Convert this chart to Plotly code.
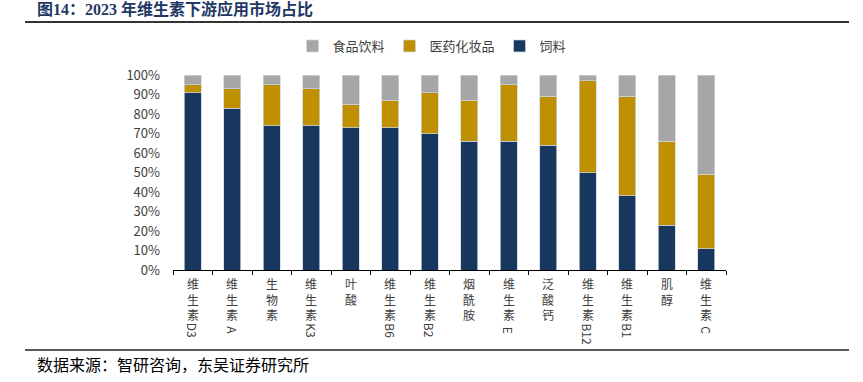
import re
import plotly.graph_objects as go

# ---------------- data ----------------
categories = ["维生素D3", "维生素A", "生物素", "维生素K3", "叶酸", "维生素B6", "维生素B2",
              "烟酰胺", "维生素E", "泛酸钙", "维生素B12", "维生素B1", "肌醇", "维生素C"]
feed = [91, 83, 74, 74, 73, 73, 70, 66, 66, 64, 50, 38, 23, 11]
pharma = [4, 10, 21, 19, 12, 14, 21, 21, 29, 25, 47, 51, 43, 38]
food = [5, 7, 5, 7, 15, 13, 9, 13, 5, 11, 3, 11, 34, 51]
series_names = ["饲料", "医药化妆品", "食品饮料"]
y_tickvals = [0, 0.1, 0.2, 0.3, 0.4, 0.5, 0.6, 0.7, 0.8, 0.9, 1.0]
title_text = "<b>图14：2023 年维生素下游应用市场占比</b>"
source_text = "数据来源：智研咨询，东吴证券研究所"

# ---------------- layout geometry ----------------
W, H = 863, 382
ML, MR, MT, MB = 173, 137, 75, 112
PW, PH = W - ML - MR, H - MT - MB


def px2x(px):
    return (px - ML) / PW


def px2y(py):
    return (H - MB - py) / PH


colors = {"饲料": "#17375E", "医药化妆品": "#BF9000", "食品饮料": "#A6A6A6"}
sans = "Noto Sans CJK SC, Liberation Sans, sans-serif"
serif = "Liberation Serif, Noto Sans CJK SC, serif"
label_color = "#404040"

fig = go.Figure()
for name, vals in zip(series_names, [feed, pharma, food]):
    fig.add_trace(go.Bar(
        x=categories, y=[v / 100 for v in vals], name=name,
        marker=dict(color=colors[name], line=dict(color="rgba(205,214,228,0.9)", width=0.8)),
        hoverinfo="skip",
    ))

annotations = []
# category labels: Chinese characters stacked upright, Latin suffix rotated 90°
lab_size = 12
line_h = 1.3 * lab_size
for cat in categories:
    m = re.match(r"^([^A-Za-z0-9]+)([A-Za-z0-9]*)$", cat)
    zh, latin = m.group(1), m.group(2)
    annotations.append(dict(
        x=cat, y=0, xref="x", yref="y", text="<br>".join(zh), showarrow=False,
        xanchor="center", yanchor="top", yshift=-4, borderpad=0,
        font=dict(family=sans, size=lab_size, color=label_color),
    ))
    if latin:
        length = 7.6 * len(latin)
        half = max(length / 2, line_h / 2)
        annotations.append(dict(
            x=cat, y=0, xref="x", yref="y", text=latin, showarrow=False,
            textangle=90, xanchor="center", yanchor="middle", borderpad=0,
            yshift=-(4 + len(zh) * line_h + 2 + half),
            font=dict(family=sans, size=lab_size, color=label_color),
        ))

annotations.append(dict(
    x=px2x(35), y=px2y(9), xref="paper", yref="paper", text=title_text,
    showarrow=False, xanchor="left", yanchor="middle",
    font=dict(family=serif, size=16, color="#1F3864"),
))
annotations.append(dict(
    x=px2x(35), y=px2y(365), xref="paper", yref="paper", text=source_text,
    showarrow=False, xanchor="left", yanchor="middle",
    font=dict(family=serif, size=16, color="#000000"),
))

shapes = [
    dict(type="line", xref="paper", yref="paper", x0=px2x(25), x1=px2x(849),
         y0=px2y(22), y1=px2y(22), line=dict(color="#333333", width=2)),
    dict(type="line", xref="paper", yref="paper", x0=px2x(25), x1=px2x(849),
         y0=px2y(350), y1=px2y(350), line=dict(color="#222222", width=1.5)),
]

fig.update_layout(
    width=W, height=H,
    margin=dict(l=ML, r=MR, t=MT, b=MB, autoexpand=False),
    paper_bgcolor="white", plot_bgcolor="white",
    barmode="stack", bargap=0.57,
    showlegend=True,
    legend=dict(orientation="h", traceorder="reversed", x=px2x(432), xanchor="center",
                y=px2y(46), yanchor="middle", font=dict(family=sans, size=13, color=label_color),
                itemclick=False),
    xaxis=dict(showticklabels=False, showline=True, linecolor="#000000", linewidth=1,
               ticks="outside", ticklen=4, tickcolor="#000000", tickson="boundaries",
               showgrid=False, fixedrange=True),
    yaxis=dict(range=[0, 1], tickvals=y_tickvals, tickformat=".0%", showgrid=False,
               showline=False, zeroline=False, ticks="", ticklabelstandoff=12,
               tickfont=dict(family=sans, size=13, color=label_color), fixedrange=True),
    annotations=annotations,
    shapes=shapes,
    font=dict(family=sans),
)

# remove the browser's default 8px body margin so the figure fills the window
fig.write_html("out.html", config={"displayModeBar": False},
               post_script="document.body.style.margin='0';")
